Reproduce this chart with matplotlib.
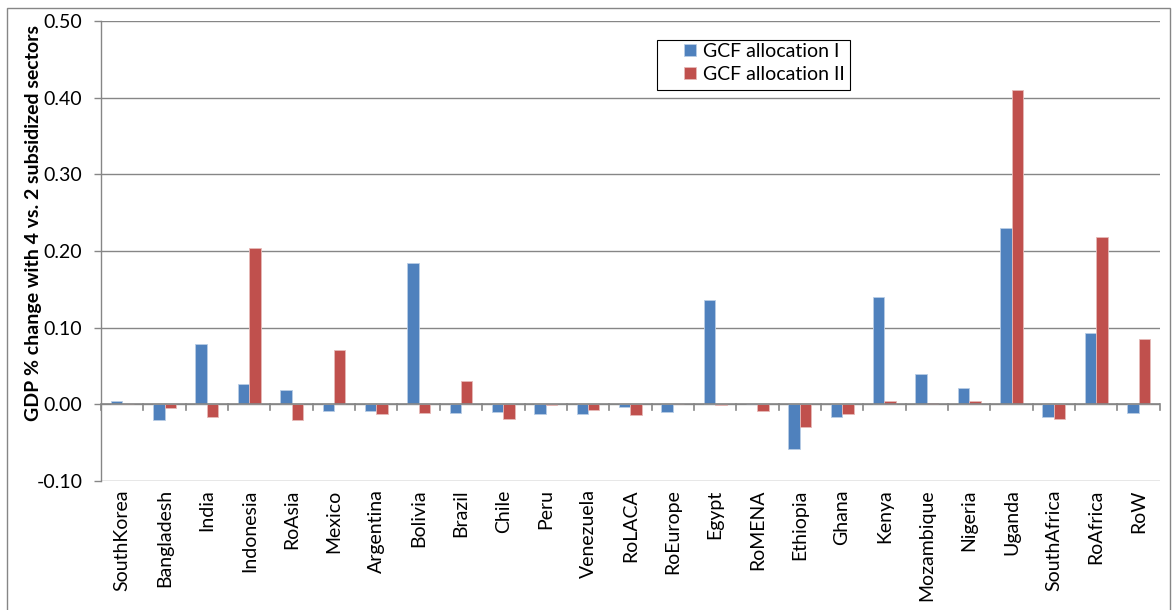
import numpy as np
import matplotlib.pyplot as plt
from matplotlib.patches import Rectangle

plt.rcParams['font.family'] = ['Lato', 'DejaVu Sans']

regions = ['SouthKorea', 'Bangladesh', 'India', 'Indonesia', 'RoAsia', 'Mexico',
           'Argentina', 'Bolivia', 'Brazil', 'Chile', 'Peru', 'Venezuela',
           'RoLACA', 'RoEurope', 'Egypt', 'RoMENA', 'Ethiopia', 'Ghana', 'Kenya',
           'Mozambique', 'Nigeria', 'Uganda', 'SouthAfrica', 'RoAfrica', 'RoW']
alloc_1 = [0.004, -0.021, 0.079, 0.027, 0.019, -0.009, -0.009, 0.185, -0.011,
           -0.010, -0.012, -0.012, -0.004, -0.010, 0.136, 0.0, -0.058, -0.016,
           0.140, 0.039, 0.021, 0.230, -0.017, 0.093, -0.011]
alloc_2 = [0.0, -0.005, -0.016, 0.204, -0.021, 0.071, -0.013, -0.011, 0.031,
           -0.019, -0.001, -0.007, -0.014, 0.0, -0.001, -0.009, -0.029, -0.013,
           0.004, 0.002, 0.004, 0.410, -0.019, 0.218, 0.085]
y_ticks = [-0.10, 0.00, 0.10, 0.20, 0.30, 0.40, 0.50]

blue = '#4F81BD'
red = '#C0504D'
grey = '#868686'
fs = 14

fig = plt.figure(figsize=(11.75, 6.1), dpi=100)
ax = fig.add_axes([0.086, 0.2115, 0.901, 0.754])

x = np.arange(len(regions))
w = 0.27
ax.bar(x - w / 2, alloc_1, w, color=blue, edgecolor='#B9CDE5', linewidth=0.6,
       label='GCF allocation I', zorder=3)
ax.bar(x + w / 2, alloc_2, w, color=red, edgecolor='#E6B9B8', linewidth=0.6,
       label='GCF allocation II', zorder=3)

ax.set_xlim(-0.5, len(regions) - 0.5)
ax.set_ylim(-0.10, 0.50)
ax.set_yticks(y_ticks)
ax.set_yticklabels([f'{v:.2f}' for v in y_ticks], fontsize=fs)
ax.yaxis.grid(True, color=grey, linewidth=1.0, zorder=0)
ax.tick_params(axis='y', length=5, color=grey, width=1.0, pad=8.5)

# category labels sit at the bottom, tick marks run along the zero line
ax.set_xticks(x)
ax.set_xticklabels(regions, rotation=90, fontsize=fs, va='top')
ax.tick_params(axis='x', length=0, pad=6)
ax.axhline(0, color=grey, linewidth=1.2, zorder=4)
for b in np.arange(-0.5, len(regions) + 0.5, 1.0):
    ax.plot([b, b], [0, -0.0075], color=grey, linewidth=1.2, zorder=4,
            clip_on=False)

for side in ['top', 'right', 'bottom']:
    ax.spines[side].set_visible(False)
ax.spines['left'].set_color(grey)
ax.spines['left'].set_linewidth(1.0)

ax.set_ylabel('GDP % change with 4 vs. 2 subsidized sectors', fontsize=14,
              fontweight='bold')
ax.yaxis.set_label_coords(-0.056, 0.561)

# legend entries without frame, box drawn separately
leg = ax.legend(loc='upper left', bbox_to_anchor=(0.582, 0.9295),
                bbox_transform=fig.transFigure, fontsize=fs, frameon=False,
                handlelength=0.6, handleheight=0.6, handletextpad=0.4,
                borderpad=0, labelspacing=0.3, borderaxespad=0)
fig.patches.append(Rectangle((0.5591, 0.8525), 0.1643, 0.082,
                             transform=fig.transFigure, fill=False,
                             edgecolor='black', linewidth=0.8))

# outer chart border
fig.patches.append(Rectangle((0.006, -0.01), 0.99, 0.997, transform=fig.transFigure,
                             fill=False, edgecolor=grey, linewidth=1.0))

fig.savefig('out.png', dpi=100)
